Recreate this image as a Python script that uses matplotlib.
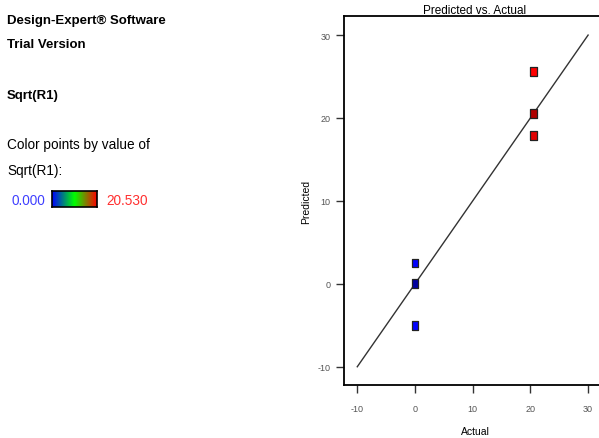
"""Design-Expert style Predicted vs. Actual plot."""

import matplotlib.pyplot as plt
import numpy as np
from matplotlib.colors import LinearSegmentedColormap

actual = [20.53, 20.53, 20.53, 0.0, 0.0, 0.0]
predicted = [25.6, 20.5, 17.9, 2.5, 0.0, -5.0]
point_colors = ["#ff0000", "#b00000", "#e00000", "#0000ff", "#0000a0", "#0000ff"]
diag = [-10, 30]
ticks = [-10, 0, 10, 20, 30]

W, H = 599, 439
plt.rcParams["font.family"] = ["Liberation Sans", "DejaVu Sans"]
plt.rcParams["axes.unicode_minus"] = False
fig = plt.figure(figsize=(W / 100, H / 100), dpi=100)


def fx(px):
    return px / W


def fy(py):
    return 1 - py / H


# left info panel
fs = 9.5
fig.text(fx(7), fy(21), "Design-Expert\u00ae Software", fontsize=fs,
         fontweight="bold", va="center")
fig.text(fx(7), fy(45), "Trial Version", fontsize=fs, fontweight="bold", va="center")
fig.text(fx(7), fy(96), "Sqrt(R1)", fontsize=fs, fontweight="bold", va="center")
fig.text(fx(7), fy(145), "Color points by value of", fontsize=fs + 0.3, va="center")
fig.text(fx(7), fy(171), "Sqrt(R1):", fontsize=fs + 0.3, va="center")
fig.text(fx(12), fy(201), "0.000", fontsize=fs + 0.3, va="center", color="#4040ff")
fig.text(fx(106), fy(201), "20.530", fontsize=fs + 0.3, va="center", color="#ff3030")

cmap = LinearSegmentedColormap.from_list("de", ["#0000ff", "#00ff00", "#ff0000"])
cax = fig.add_axes([fx(52), fy(208), fx(97) - fx(52), fy(192) - fy(208)])
cax.imshow(np.linspace(0, 1, 256)[None, :], aspect="auto", cmap=cmap)
cax.set_xticks([])
cax.set_yticks([])
for s in cax.spines.values():
    s.set_linewidth(1.2)

# main plot
x0, x1, y0, y1 = 344, 606, 17, 386
ax = fig.add_axes([fx(x0), fy(y1), fx(x1) - fx(x0), fy(y0) - fy(y1)])
ax.set_xlim(-12.3, 33.1)
ax.set_ylim(-12.2, 32.3)
ax.plot(diag, diag, color="#333333", lw=1.0)
rect = [(-0.75, -1), (0.75, -1), (0.75, 1), (-0.75, 1), (-0.75, -1)]
ax.scatter(actual, predicted, marker=rect, s=40, c=point_colors,
           edgecolors="#222222", linewidths=0.9, zorder=3)

ax.set_xticks(ticks)
ax.set_yticks(ticks)
ax.tick_params(labelsize=6.5, colors="#333333", labelcolor="#555555",
               length=6, width=1.0, direction="out")
ax.tick_params(axis="x", pad=8)
for s in ax.spines.values():
    s.set_linewidth(1.3)
ax.set_xlabel("Actual", fontsize=7.5, labelpad=9)
ax.set_ylabel("Predicted", fontsize=7.5, labelpad=5)
ax.set_title("Predicted vs. Actual", fontsize=8.5, pad=1)

fig.savefig("out.png", dpi=100)
